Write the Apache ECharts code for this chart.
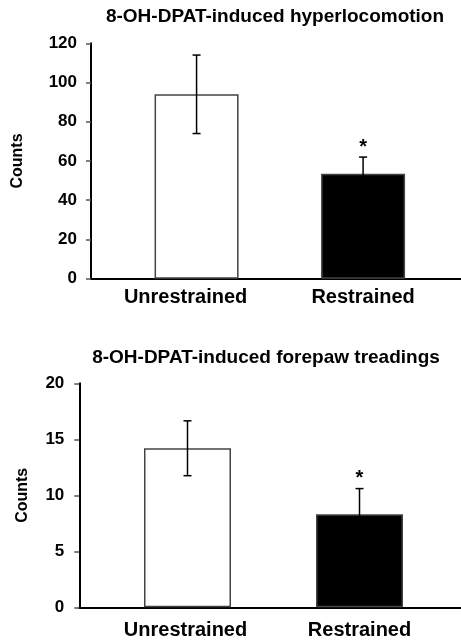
<!DOCTYPE html>
<html>
<head>
<meta charset="utf-8">
<script src="https://cdn.jsdelivr.net/npm/echarts@6/dist/echarts.min.js"></script>
<style>
html,body{margin:0;padding:0;background:#fff;}
#chart{width:461px;height:641px;}
</style>
</head>
<body>
<div id="chart"></div>
<script>
// ---- data ----
const categories = ['Unrestrained', 'Restrained'];
const titles = ['8-OH-DPAT-induced hyperlocomotion', '8-OH-DPAT-induced forepaw treadings'];
const yName = 'Counts';
const hyperMeans = [94, 53.5];
const hyperErrors = [20, 8.5];
const treadMeans = [14.2, 8.3];
const treadErrors = [2.45, 2.3];
const sigMarks = ['', '*'];
const hyperAxis = [0, 120, 20];   // min, max, interval
const treadAxis = [0, 20, 5];

// ---- styles ----
const FONT = '"Liberation Sans", Arial, sans-serif';
const barFill = ['#ffffff', '#000000'];

const chart = echarts.init(document.getElementById('chart'), null, {renderer: 'canvas'});

function barSeries(means, idx, width) {
  return {
    type: 'bar',
    xAxisIndex: idx, yAxisIndex: idx,
    barWidth: width,
    data: means.map((v, i) => [i, v]),
    itemStyle: {
      color: p => barFill[p.dataIndex],
      borderColor: '#444444',
      borderWidth: 1.5
    },
    z: 2
  };
}

function errSeries(means, errs, idx) {
  return {
    type: 'custom',
    xAxisIndex: idx, yAxisIndex: idx,
    data: means.map((v, i) => [i, v, errs[i]]),
    encode: {x: 0, y: 1},
    z: 5,
    renderItem: function (params, api) {
      const x = api.value(0), m = api.value(1), e = api.value(2);
      const top = api.coord([x, m + e]);
      const bot = api.coord([x, m - e]);
      const cap = 4;
      const st = {stroke: '#000', lineWidth: 1.5};
      const children = [
        {type: 'line', shape: {x1: top[0], y1: top[1], x2: bot[0], y2: bot[1]}, style: st},
        {type: 'line', shape: {x1: top[0] - cap, y1: top[1], x2: top[0] + cap, y2: top[1]}, style: st},
        {type: 'line', shape: {x1: bot[0] - cap, y1: bot[1], x2: bot[0] + cap, y2: bot[1]}, style: st}
      ];
      const mark = sigMarks[params.dataIndex];
      if (mark) {
        children.push({
          type: 'text',
          style: {
            text: mark, x: top[0], y: top[1] - 10,
            align: 'center', verticalAlign: 'middle',
            font: 'bold 20px ' + FONT, fill: '#000'
          }
        });
      }
      return {type: 'group', children: children};
    }
  };
}

function yAxis(idx, ax, margin, nameGap) {
  return {
    gridIndex: idx,
    type: 'value',
    min: ax[0], max: ax[1], interval: ax[2],
    name: yName,
    nameLocation: 'middle',
    nameRotate: 90,
    nameGap: nameGap,
    nameTextStyle: {fontFamily: FONT, fontWeight: 'bold', fontSize: 16, color: '#000'},
    axisLine: {show: true, onZero: false, lineStyle: {color: '#000', width: 2}},
    axisTick: {show: true, inside: false, length: 5, lineStyle: {color: '#555', width: 1.5}},
    splitLine: {show: false},
    axisLabel: {fontFamily: FONT, fontWeight: 'bold', fontSize: 17, color: '#000', margin: margin}
  };
}

function xAxis(idx, min, max, margin, shiftFirst) {
  return {
    gridIndex: idx,
    type: 'value',
    min: min, max: max,
    axisLine: {show: true, onZero: false, lineStyle: {color: '#000', width: 2}},
    axisTick: {show: false},
    splitLine: {show: false},
    axisLabel: {
      customValues: [0, 1],
      margin: margin,
      formatter: v => {
        const i = Math.round(v);
        if (i === 0 && shiftFirst) return '{s|' + categories[i] + '}';
        return categories[i] || '';
      },
      fontFamily: FONT, fontWeight: 'bold', fontSize: 20, color: '#000',
      rich: {s: {fontFamily: FONT, fontWeight: 'bold', fontSize: 20, color: '#000', padding: [0, shiftFirst, 0, 0]}}
    }
  };
}

const option = {
  animation: false,
  backgroundColor: '#fff',
  title: [
    {text: titles[0], left: 275, top: 7, textAlign: 'center', padding: 0,
     textStyle: {fontFamily: FONT, fontWeight: 'bold', fontSize: 19, color: '#000'}},
    {text: titles[1], left: 266, top: 348, textAlign: 'center', padding: 0,
     textStyle: {fontFamily: FONT, fontWeight: 'bold', fontSize: 19, color: '#000'}}
  ],
  grid: [
    {left: 91, top: 43.3, width: 370, height: 235.4},
    {left: 79.3, top: 383.3, width: 381.7, height: 224}
  ],
  xAxis: [
    xAxis(0, -0.634, 1.588, 9, 22),
    xAxis(1, -0.629, 1.590, 13, 4)
  ],
  yAxis: [
    yAxis(0, hyperAxis, 14, 65),
    yAxis(1, treadAxis, 15, 49)
  ],
  series: [
    barSeries(hyperMeans, 0, 84),
    errSeries(hyperMeans, hyperErrors, 0),
    barSeries(treadMeans, 1, 87),
    errSeries(treadMeans, treadErrors, 1)
  ]
};
chart.setOption(option);
</script>
</body>
</html>
